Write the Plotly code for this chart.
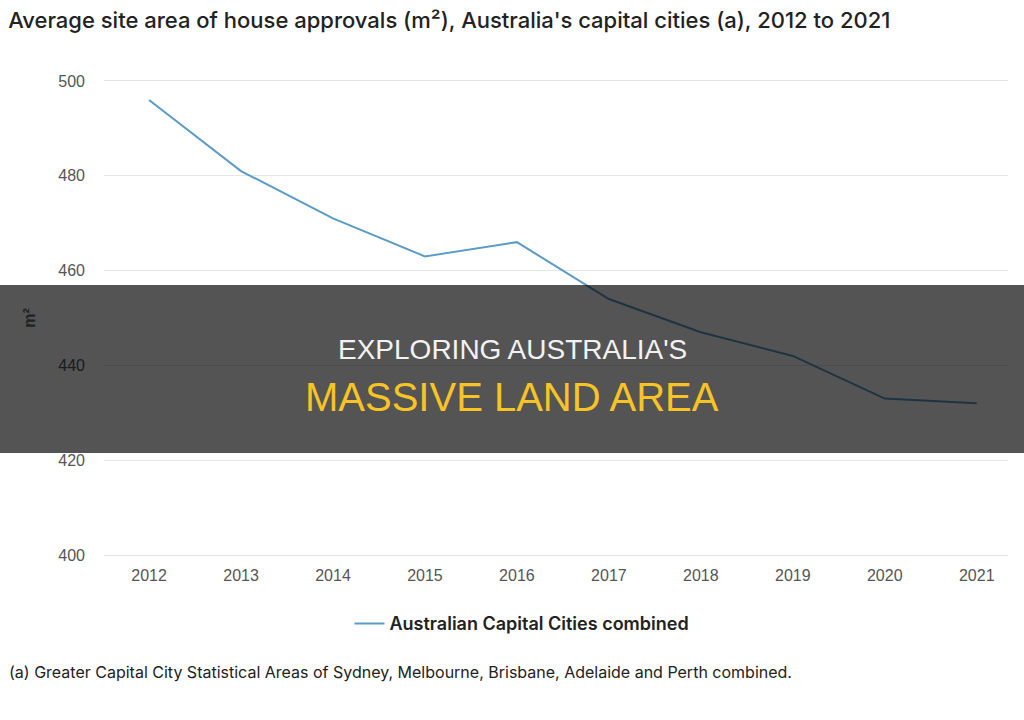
import plotly.graph_objects as go

years = [2012, 2013, 2014, 2015, 2016, 2017, 2018, 2019, 2020, 2021]
site_area = [496, 481, 471, 463, 466, 454, 447, 442, 433, 432]
series_name = "Australian Capital Cities combined"
title_text = "Average site area of house approvals (m²), Australia's capital cities (a), 2012 to 2021"
footnote = "(a) Greater Capital City Statistical Areas of Sydney, Melbourne, Brisbane, Adelaide and Perth combined."
banner_line1 = "EXPLORING AUSTRALIA'S"
banner_line2 = "MASSIVE LAND AREA"

SANS = "Liberation Sans, Arial, sans-serif"
UI = "Inter, Liberation Sans, sans-serif"

fig = go.Figure()
fig.add_trace(go.Scatter(x=years, y=site_area, mode="lines", name=series_name,
                         line=dict(color="#5b9bc6", width=2)))

fig.update_layout(
    width=1024, height=720,
    paper_bgcolor="white", plot_bgcolor="white",
    margin=dict(l=104, r=16, t=81, b=165),
    font=dict(family=SANS, color="#555"),
    showlegend=True,
    legend=dict(orientation="h", x=(522 - 104) / 904, xanchor="center", y=-0.145, yanchor="middle",
                font=dict(size=18, color="#222", family=UI, weight=600),
                itemwidth=30),
    title=dict(text=title_text, x=0.008, xanchor="left", y=0.972, yanchor="middle",
               font=dict(size=22, color="#222", family=UI, weight=500)),
)
fig.update_xaxes(range=[2011.51, 2021.34], tickvals=years, ticktext=[str(y) for y in years],
                 showgrid=False, zeroline=False, showline=True, mirror=True,
                 linecolor="#e3e3e3", linewidth=1, ticks="", ticklabelstandoff=6,
                 tickfont=dict(size=16, color="#555"))
fig.update_yaxes(range=[400, 500], tickvals=[400, 420, 440, 460, 480, 500],
                 showgrid=True, gridcolor="#e6e6e6", gridwidth=1, zeroline=False,
                 showline=False, ticks="", ticklabelstandoff=18,
                 tickfont=dict(size=16, color="#555"),
                 title=dict(text="m²", font=dict(size=16, color="#222", weight="bold"), standoff=18))

fig.add_annotation(text=footnote, xref="paper", yref="paper", x=-0.107, y=-0.247,
                   xanchor="left", yanchor="middle", showarrow=False,
                   font=dict(size=16, color="#222", family=UI))

# banner overlay
fig.add_shape(type="rect", xref="paper", yref="paper", x0=-0.2, x1=1.1,
              y0=(555 - 453) / 474, y1=(555 - 285) / 474,
              fillcolor="rgba(0,0,0,0.67)", line=dict(width=0), layer="above")
fig.add_annotation(text=banner_line1, xref="paper", yref="paper",
                   x=(512 - 104) / 904, y=(555 - 349) / 474, xanchor="center", yanchor="middle",
                   showarrow=False, font=dict(size=28, color="#f2f2f2", family=SANS))
fig.add_annotation(text=banner_line2, xref="paper", yref="paper",
                   x=(512 - 104) / 904, y=(555 - 397) / 474, xanchor="center", yanchor="middle",
                   showarrow=False, font=dict(size=40, color="#f7c325", family=SANS))

fig.write_html("out.html")
